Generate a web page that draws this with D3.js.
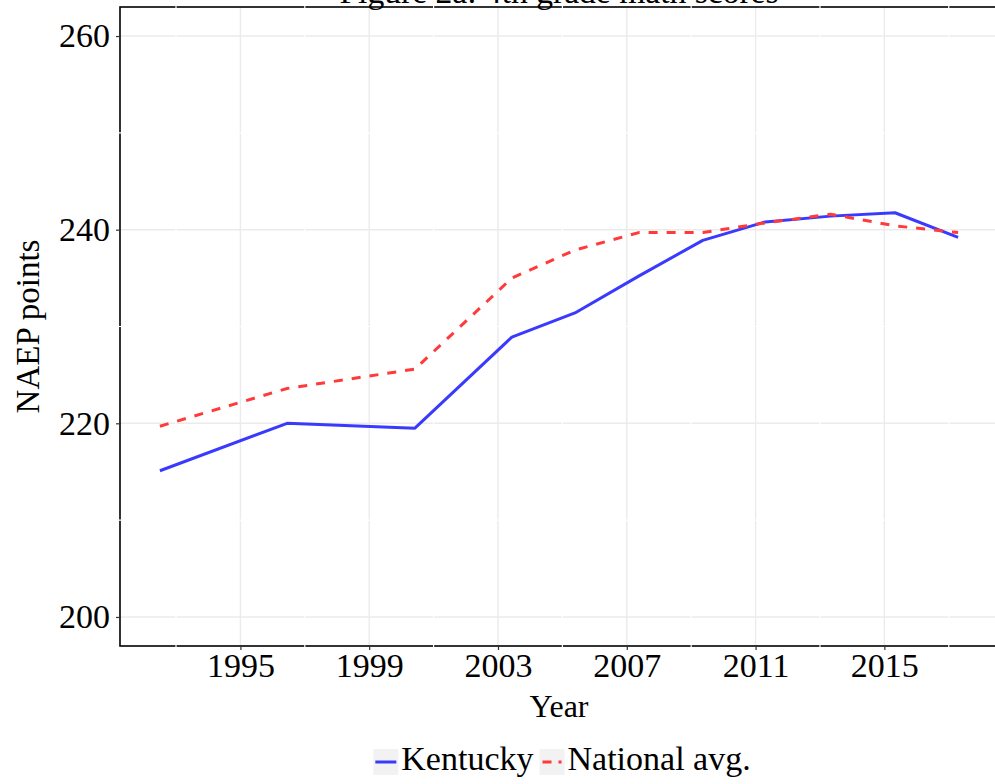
<!DOCTYPE html>
<html>
<head>
<meta charset="utf-8">
<script src="https://cdn.jsdelivr.net/npm/d3@7"></script>
<style>
  body { margin: 0; background: #fff; }
  svg { display: block; }
  text { font-family: 'Liberation Serif', 'Times New Roman', serif; fill: #000; }
</style>
</head>
<body>
<svg id="chart" width="995" height="784"></svg>
<script>
// Assessment timing (decimal year) and average NAEP scale scores
const testYear = [1992.5, 1996.45, 2000.42, 2003.43, 2005.39, 2007.37, 2009.36, 2011.3, 2013.33, 2015.33, 2017.29];
const kentucky = [215.1, 220.0, 219.5, 228.9, 231.4, 235.2, 238.9, 240.8, 241.4, 241.75, 239.2];
const national = [219.7, 223.6, 225.6, 235.0, 237.9, 239.7, 239.7, 240.7, 241.6, 240.4, 239.7];

const seriesNames = ["Kentucky", "National avg."];
const yearTicks = [1995, 1999, 2003, 2007, 2011, 2015];
const yearMinor = [1993, 1997, 2001, 2005, 2009, 2013, 2017];
const pointTicks = [200, 220, 240, 260];
const pointMinor = [210, 230, 250];
const titleText = "Figure 2a: 4th grade math scores";

const svg = d3.select("#chart");
const panel = { left: 120, top: 7, right: 998, bottom: 646 };

// ggplot-style 5% expansion of the data / break range
const xExt = d3.extent(testYear);
const xPad = (xExt[1] - xExt[0]) * 0.05;
const x = d3.scaleLinear().domain([xExt[0] - xPad, xExt[1] + xPad]).range([panel.left, panel.right]);
const yExt = d3.extent(pointTicks);
const yPad = (yExt[1] - yExt[0]) * 0.05;
const y = d3.scaleLinear().domain([yExt[0] - yPad, yExt[1] + yPad]).range([panel.bottom, panel.top]);

const series = [
  { name: seriesNames[0], values: kentucky, color: "#3a3aff", dash: null },
  { name: seriesNames[1], values: national, color: "#ff3a3a", dash: "9,9" }
];

// Panel background
svg.append("rect")
  .attr("x", panel.left).attr("y", panel.top)
  .attr("width", panel.right - panel.left).attr("height", panel.bottom - panel.top)
  .attr("fill", "#fff");

// Major grid
const grid = svg.append("g");
grid.selectAll("line.vx").data(yearTicks).join("line")
  .attr("x1", d => x(d)).attr("x2", d => x(d))
  .attr("y1", panel.top).attr("y2", panel.bottom)
  .attr("stroke", "#ebebeb").attr("stroke-width", 1.4);
grid.selectAll("line.hy").data(pointTicks).join("line")
  .attr("y1", d => y(d)).attr("y2", d => y(d))
  .attr("x1", panel.left).attr("x2", panel.right)
  .attr("stroke", "#ebebeb").attr("stroke-width", 1.4);

// Panel border
svg.append("rect")
  .attr("x", panel.left).attr("y", panel.top)
  .attr("width", panel.right - panel.left).attr("height", panel.bottom - panel.top)
  .attr("fill", "none").attr("stroke", "#000").attr("stroke-width", 1.6);

// White minor grid drawn over the border
const minor = svg.append("g");
minor.selectAll("line.mx").data(yearMinor).join("line")
  .attr("x1", d => x(d)).attr("x2", d => x(d))
  .attr("y1", panel.top - 1).attr("y2", panel.bottom + 1)
  .attr("stroke", "#fff").attr("stroke-width", 1.2);
minor.selectAll("line.my").data(pointMinor).join("line")
  .attr("y1", d => y(d)).attr("y2", d => y(d))
  .attr("x1", panel.left - 1).attr("x2", panel.right + 1)
  .attr("stroke", "#fff").attr("stroke-width", 1.2);

// Series lines
const line = d3.line().x(d => x(d[0])).y(d => y(d[1]));
series.forEach(s => {
  svg.append("path")
    .datum(testYear.map((t, i) => [t, s.values[i]]))
    .attr("d", line)
    .attr("fill", "none")
    .attr("stroke", s.color)
    .attr("stroke-width", 3)
    .attr("stroke-linejoin", "round")
    .attr("stroke-dasharray", s.dash);
});

// Axes
const xAxis = svg.append("g")
  .attr("transform", `translate(0,${panel.bottom})`)
  .call(d3.axisBottom(x).tickValues(yearTicks).tickFormat(d3.format("d")).tickSize(4).tickPadding(3));
const yAxis = svg.append("g")
  .attr("transform", `translate(${panel.left},0)`)
  .call(d3.axisLeft(y).tickValues(pointTicks).tickSize(4).tickPadding(6));
[xAxis, yAxis].forEach(a => {
  a.select(".domain").remove();
  a.selectAll(".tick line").attr("stroke", "#333").attr("stroke-width", 1.2);
  a.selectAll(".tick text")
    .style("font-family", "'Liberation Serif', 'Times New Roman', serif")
    .style("font-size", "34px").attr("fill", "#111");
});

// Axis titles
svg.append("text")
  .attr("x", (panel.left + panel.right) / 2).attr("y", 717)
  .attr("text-anchor", "middle").style("font-size", "32px")
  .text("Year");
svg.append("text")
  .attr("transform", `translate(39,${(panel.top + panel.bottom) / 2}) rotate(-90)`)
  .attr("text-anchor", "middle").style("font-size", "33px")
  .text("NAEP points");

// Legend
const legend = svg.append("g");
let cursor = 0;
series.forEach(s => {
  const g = legend.append("g").attr("transform", `translate(${cursor},0)`);
  g.append("rect").attr("x", 0).attr("y", -13).attr("width", 25).attr("height", 26).attr("fill", "#f2f2f2");
  g.append("line").attr("x1", s.dash ? 3 : 2).attr("x2", s.dash ? 22 : 23).attr("y1", 0).attr("y2", 0)
    .attr("stroke", s.color).attr("stroke-width", 3)
    .attr("stroke-dasharray", s.dash ? "9,7" : null);
  const t = g.append("text").attr("x", 28).attr("y", 8).style("font-size", "34px").text(s.name);
  cursor += 28 + t.node().getComputedTextLength() + 6;
});
const legendWidth = cursor - 6;
legend.attr("transform", `translate(${562 - legendWidth / 2},762)`);

// Title (clipped at the top edge)
svg.append("text")
  .attr("x", (panel.left + panel.right) / 2).attr("y", 2.5)
  .attr("text-anchor", "middle").style("font-size", "33.6px")
  .text(titleText);
</script>
</body>
</html>
